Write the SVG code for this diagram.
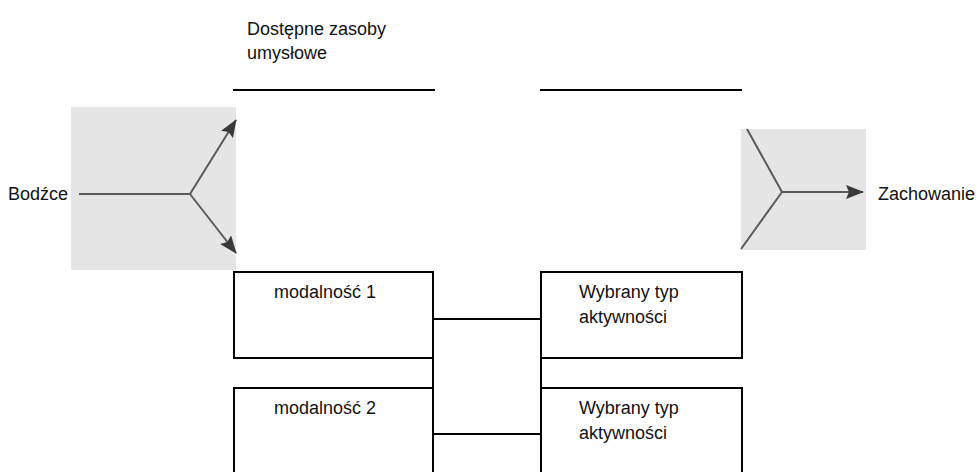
<svg xmlns="http://www.w3.org/2000/svg" width="980" height="472" viewBox="0 0 980 472">
  <style>
    .txt { font-family: "Liberation Sans", Arial, sans-serif; font-size: 18px; fill: #111; }
    .box { fill: #fff; stroke: #000; stroke-width: 2; }
    .rule { stroke: #000; stroke-width: 2; }
    .link { stroke: #000; stroke-width: 2; fill: none; }
    .panel { fill: #e5e5e5; }
    .branch { stroke: #5a5a5a; stroke-width: 2; fill: none; }
  </style>
  <defs>
    <marker id="head" viewBox="0 0 18 14" refX="17" refY="7" markerWidth="18" markerHeight="14" markerUnits="userSpaceOnUse" orient="auto">
      <path d="M0,0 L18,7 L0,14 L3,7 Z" fill="#3a3a3a"/>
    </marker>
  </defs>

  <!-- input panel: stimuli split into two paths -->
  <g id="stimuli">
    <rect class="panel" x="71" y="107" width="165" height="163"/>
    <text class="txt" x="8" y="200">Bodźce</text>
    <path class="branch" d="M79,194 H190"/>
    <path class="branch" d="M190,194 L236,120" marker-end="url(#head)"/>
    <path class="branch" d="M190,194 L236,253" marker-end="url(#head)"/>
  </g>

  <!-- output panel: two paths merge into behaviour -->
  <g id="behaviour">
    <rect class="panel" x="741" y="129" width="125" height="121"/>
    <path class="branch" d="M747,129 L782,192 L741,249"/>
    <path class="branch" d="M782,192 H863" marker-end="url(#head)"/>
    <text class="txt" x="878" y="200">Zachowanie</text>
  </g>

  <!-- header -->
  <g id="resources">
    <text class="txt" x="247" y="35">Dostępne zasoby</text>
    <text class="txt" x="247" y="59">umysłowe</text>
    <line class="rule" x1="233" y1="90" x2="435" y2="90"/>
    <line class="rule" x1="540" y1="90" x2="742" y2="90"/>
  </g>

  <g id="modality1">
    <rect class="box" x="234" y="272" width="199" height="86"/>
    <text class="txt" x="274" y="298">modalność 1</text>
  </g>
  <g id="modality2">
    <rect class="box" x="234" y="388" width="199" height="95"/>
    <text class="txt" x="274" y="414">modalność 2</text>
  </g>
  <g id="activity1">
    <rect class="box" x="541" y="272" width="201" height="86"/>
    <text class="txt" x="579" y="298">Wybrany typ</text>
    <text class="txt" x="579" y="323">aktywności</text>
  </g>
  <g id="activity2">
    <rect class="box" x="541" y="388" width="201" height="95"/>
    <text class="txt" x="579" y="414">Wybrany typ</text>
    <text class="txt" x="579" y="439">aktywności</text>
  </g>

  <g id="connectors">
    <line class="link" x1="433" y1="358" x2="433" y2="388"/>
    <line class="link" x1="541" y1="358" x2="541" y2="388"/>
    <line class="link" x1="433" y1="319" x2="541" y2="319"/>
    <line class="link" x1="433" y1="434" x2="541" y2="434"/>
  </g>
</svg>
